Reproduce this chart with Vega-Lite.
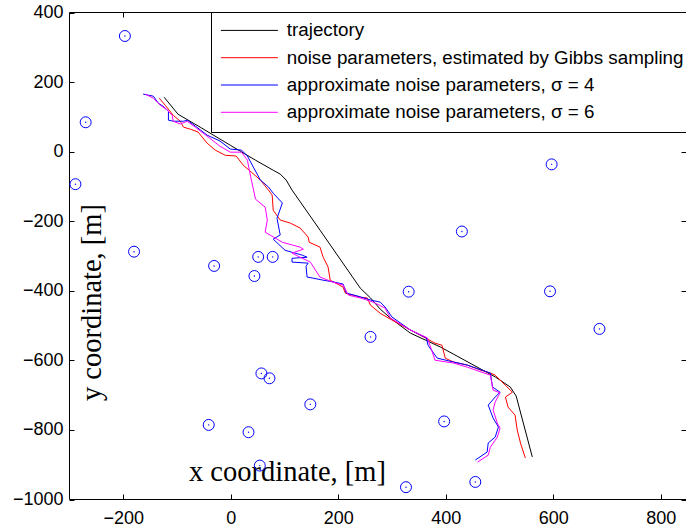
{
 "$schema": "https://vega.github.io/schema/vega-lite/v6.json",
 "width": 617,
 "height": 487,
 "autosize": {"type": "none"},
 "padding": {"left": 69, "top": 12, "right": 0, "bottom": 30},
 "background": "white",
 "config": {
  "view": {"stroke": "black", "strokeWidth": 1},
  "axis": {"grid": false, "domain": false, "labelColor": "black", "labelFont": "Liberation Sans", "labelFontSize": 18, "titleFont": "Liberation Serif", "titleFontSize": 28.5, "titleFontWeight": "normal", "titleColor": "black"}
 },
 "datasets": {
  "paths": [
   {"s": "trajectory", "i": 0, "x": -123, "y": 155},
   {"s": "trajectory", "i": 1, "x": -97, "y": 106},
   {"s": "trajectory", "i": 2, "x": -56, "y": 69},
   {"s": "trajectory", "i": 3, "x": 0, "y": 17},
   {"s": "trajectory", "i": 4, "x": 47, "y": -26},
   {"s": "trajectory", "i": 5, "x": 80, "y": -55},
   {"s": "trajectory", "i": 6, "x": 93, "y": -66},
   {"s": "trajectory", "i": 7, "x": 104, "y": -83},
   {"s": "trajectory", "i": 8, "x": 115, "y": -112},
   {"s": "trajectory", "i": 9, "x": 167, "y": -227},
   {"s": "trajectory", "i": 10, "x": 242, "y": -394},
   {"s": "trajectory", "i": 11, "x": 261, "y": -422},
   {"s": "trajectory", "i": 12, "x": 279, "y": -454},
   {"s": "trajectory", "i": 13, "x": 298, "y": -480},
   {"s": "trajectory", "i": 14, "x": 335, "y": -523},
   {"s": "trajectory", "i": 15, "x": 391, "y": -563},
   {"s": "trajectory", "i": 16, "x": 493, "y": -649},
   {"s": "trajectory", "i": 17, "x": 521, "y": -678},
   {"s": "trajectory", "i": 18, "x": 532, "y": -704},
   {"s": "trajectory", "i": 19, "x": 562, "y": -879},

   {"s": "noise parameters, estimated by Gibbs sampling", "i": 0, "x": -132, "y": 152},
   {"s": "noise parameters, estimated by Gibbs sampling", "i": 1, "x": -121, "y": 132},
   {"s": "noise parameters, estimated by Gibbs sampling", "i": 2, "x": -106, "y": 103},
   {"s": "noise parameters, estimated by Gibbs sampling", "i": 3, "x": -93, "y": 86},
   {"s": "noise parameters, estimated by Gibbs sampling", "i": 4, "x": -87, "y": 69},
   {"s": "noise parameters, estimated by Gibbs sampling", "i": 5, "x": -74, "y": 63},
   {"s": "noise parameters, estimated by Gibbs sampling", "i": 6, "x": -60, "y": 55},
   {"s": "noise parameters, estimated by Gibbs sampling", "i": 7, "x": -43, "y": 23},
   {"s": "noise parameters, estimated by Gibbs sampling", "i": 8, "x": -28, "y": 3},
   {"s": "noise parameters, estimated by Gibbs sampling", "i": 9, "x": -9, "y": -12},
   {"s": "noise parameters, estimated by Gibbs sampling", "i": 10, "x": 11, "y": -14},
   {"s": "noise parameters, estimated by Gibbs sampling", "i": 11, "x": 24, "y": -40},
   {"s": "noise parameters, estimated by Gibbs sampling", "i": 12, "x": 39, "y": -60},
   {"s": "noise parameters, estimated by Gibbs sampling", "i": 13, "x": 56, "y": -83},
   {"s": "noise parameters, estimated by Gibbs sampling", "i": 14, "x": 71, "y": -112},
   {"s": "noise parameters, estimated by Gibbs sampling", "i": 15, "x": 78, "y": -126},
   {"s": "noise parameters, estimated by Gibbs sampling", "i": 16, "x": 80, "y": -170},
   {"s": "noise parameters, estimated by Gibbs sampling", "i": 17, "x": 93, "y": -198},
   {"s": "noise parameters, estimated by Gibbs sampling", "i": 18, "x": 112, "y": -207},
   {"s": "noise parameters, estimated by Gibbs sampling", "i": 19, "x": 130, "y": -221},
   {"s": "noise parameters, estimated by Gibbs sampling", "i": 20, "x": 145, "y": -247},
   {"s": "noise parameters, estimated by Gibbs sampling", "i": 21, "x": 147, "y": -262},
   {"s": "noise parameters, estimated by Gibbs sampling", "i": 22, "x": 167, "y": -276},
   {"s": "noise parameters, estimated by Gibbs sampling", "i": 23, "x": 173, "y": -305},
   {"s": "noise parameters, estimated by Gibbs sampling", "i": 24, "x": 182, "y": -333},
   {"s": "noise parameters, estimated by Gibbs sampling", "i": 25, "x": 186, "y": -371},
   {"s": "noise parameters, estimated by Gibbs sampling", "i": 26, "x": 192, "y": -376},
   {"s": "noise parameters, estimated by Gibbs sampling", "i": 27, "x": 210, "y": -391},
   {"s": "noise parameters, estimated by Gibbs sampling", "i": 28, "x": 214, "y": -408},
   {"s": "noise parameters, estimated by Gibbs sampling", "i": 29, "x": 242, "y": -420},
   {"s": "noise parameters, estimated by Gibbs sampling", "i": 30, "x": 255, "y": -422},
   {"s": "noise parameters, estimated by Gibbs sampling", "i": 31, "x": 261, "y": -443},
   {"s": "noise parameters, estimated by Gibbs sampling", "i": 32, "x": 279, "y": -466},
   {"s": "noise parameters, estimated by Gibbs sampling", "i": 33, "x": 298, "y": -483},
   {"s": "noise parameters, estimated by Gibbs sampling", "i": 34, "x": 335, "y": -514},
   {"s": "noise parameters, estimated by Gibbs sampling", "i": 35, "x": 363, "y": -537},
   {"s": "noise parameters, estimated by Gibbs sampling", "i": 36, "x": 381, "y": -552},
   {"s": "noise parameters, estimated by Gibbs sampling", "i": 37, "x": 394, "y": -558},
   {"s": "noise parameters, estimated by Gibbs sampling", "i": 38, "x": 400, "y": -595},
   {"s": "noise parameters, estimated by Gibbs sampling", "i": 39, "x": 415, "y": -606},
   {"s": "noise parameters, estimated by Gibbs sampling", "i": 40, "x": 441, "y": -615},
   {"s": "noise parameters, estimated by Gibbs sampling", "i": 41, "x": 465, "y": -629},
   {"s": "noise parameters, estimated by Gibbs sampling", "i": 42, "x": 484, "y": -638},
   {"s": "noise parameters, estimated by Gibbs sampling", "i": 43, "x": 493, "y": -644},
   {"s": "noise parameters, estimated by Gibbs sampling", "i": 44, "x": 525, "y": -693},
   {"s": "noise parameters, estimated by Gibbs sampling", "i": 45, "x": 512, "y": -707},
   {"s": "noise parameters, estimated by Gibbs sampling", "i": 46, "x": 517, "y": -736},
   {"s": "noise parameters, estimated by Gibbs sampling", "i": 47, "x": 530, "y": -759},
   {"s": "noise parameters, estimated by Gibbs sampling", "i": 48, "x": 534, "y": -802},
   {"s": "noise parameters, estimated by Gibbs sampling", "i": 49, "x": 540, "y": -839},
   {"s": "noise parameters, estimated by Gibbs sampling", "i": 50, "x": 549, "y": -882},

   {"s": "approximate noise parameters, σ = 4", "i": 0, "x": -162, "y": 164},
   {"s": "approximate noise parameters, σ = 4", "i": 1, "x": -143, "y": 158},
   {"s": "approximate noise parameters, σ = 4", "i": 2, "x": -134, "y": 138},
   {"s": "approximate noise parameters, σ = 4", "i": 3, "x": -125, "y": 129},
   {"s": "approximate noise parameters, σ = 4", "i": 4, "x": -115, "y": 115},
   {"s": "approximate noise parameters, σ = 4", "i": 5, "x": -115, "y": 89},
   {"s": "approximate noise parameters, σ = 4", "i": 6, "x": -106, "y": 86},
   {"s": "approximate noise parameters, σ = 4", "i": 7, "x": -87, "y": 86},
   {"s": "approximate noise parameters, σ = 4", "i": 8, "x": -80, "y": 89},
   {"s": "approximate noise parameters, σ = 4", "i": 9, "x": -65, "y": 72},
   {"s": "approximate noise parameters, σ = 4", "i": 10, "x": -43, "y": 46},
   {"s": "approximate noise parameters, σ = 4", "i": 11, "x": -19, "y": 29},
   {"s": "approximate noise parameters, σ = 4", "i": 12, "x": 0, "y": 6},
   {"s": "approximate noise parameters, σ = 4", "i": 13, "x": 21, "y": 3},
   {"s": "approximate noise parameters, σ = 4", "i": 14, "x": 32, "y": -14},
   {"s": "approximate noise parameters, σ = 4", "i": 15, "x": 43, "y": -46},
   {"s": "approximate noise parameters, σ = 4", "i": 16, "x": 56, "y": -83},
   {"s": "approximate noise parameters, σ = 4", "i": 17, "x": 71, "y": -103},
   {"s": "approximate noise parameters, σ = 4", "i": 18, "x": 80, "y": -121},
   {"s": "approximate noise parameters, σ = 4", "i": 19, "x": 97, "y": -149},
   {"s": "approximate noise parameters, σ = 4", "i": 20, "x": 87, "y": -193},
   {"s": "approximate noise parameters, σ = 4", "i": 21, "x": 93, "y": -241},
   {"s": "approximate noise parameters, σ = 4", "i": 22, "x": 80, "y": -253},
   {"s": "approximate noise parameters, σ = 4", "i": 23, "x": 102, "y": -285},
   {"s": "approximate noise parameters, σ = 4", "i": 24, "x": 134, "y": -299},
   {"s": "approximate noise parameters, σ = 4", "i": 25, "x": 143, "y": -305},
   {"s": "approximate noise parameters, σ = 4", "i": 26, "x": 115, "y": -308},
   {"s": "approximate noise parameters, σ = 4", "i": 27, "x": 115, "y": -319},
   {"s": "approximate noise parameters, σ = 4", "i": 28, "x": 145, "y": -322},
   {"s": "approximate noise parameters, σ = 4", "i": 29, "x": 141, "y": -331},
   {"s": "approximate noise parameters, σ = 4", "i": 30, "x": 143, "y": -362},
   {"s": "approximate noise parameters, σ = 4", "i": 31, "x": 154, "y": -365},
   {"s": "approximate noise parameters, σ = 4", "i": 32, "x": 173, "y": -371},
   {"s": "approximate noise parameters, σ = 4", "i": 33, "x": 192, "y": -376},
   {"s": "approximate noise parameters, σ = 4", "i": 34, "x": 210, "y": -382},
   {"s": "approximate noise parameters, σ = 4", "i": 35, "x": 216, "y": -408},
   {"s": "approximate noise parameters, σ = 4", "i": 36, "x": 238, "y": -417},
   {"s": "approximate noise parameters, σ = 4", "i": 37, "x": 261, "y": -428},
   {"s": "approximate noise parameters, σ = 4", "i": 38, "x": 279, "y": -434},
   {"s": "approximate noise parameters, σ = 4", "i": 39, "x": 288, "y": -448},
   {"s": "approximate noise parameters, σ = 4", "i": 40, "x": 301, "y": -477},
   {"s": "approximate noise parameters, σ = 4", "i": 41, "x": 335, "y": -514},
   {"s": "approximate noise parameters, σ = 4", "i": 42, "x": 365, "y": -537},
   {"s": "approximate noise parameters, σ = 4", "i": 43, "x": 368, "y": -558},
   {"s": "approximate noise parameters, σ = 4", "i": 44, "x": 385, "y": -595},
   {"s": "approximate noise parameters, σ = 4", "i": 45, "x": 415, "y": -606},
   {"s": "approximate noise parameters, σ = 4", "i": 46, "x": 441, "y": -615},
   {"s": "approximate noise parameters, σ = 4", "i": 47, "x": 484, "y": -638},
   {"s": "approximate noise parameters, σ = 4", "i": 48, "x": 488, "y": -678},
   {"s": "approximate noise parameters, σ = 4", "i": 49, "x": 502, "y": -693},
   {"s": "approximate noise parameters, σ = 4", "i": 50, "x": 493, "y": -707},
   {"s": "approximate noise parameters, σ = 4", "i": 51, "x": 480, "y": -730},
   {"s": "approximate noise parameters, σ = 4", "i": 52, "x": 489, "y": -767},
   {"s": "approximate noise parameters, σ = 4", "i": 53, "x": 499, "y": -793},
   {"s": "approximate noise parameters, σ = 4", "i": 54, "x": 493, "y": -822},
   {"s": "approximate noise parameters, σ = 4", "i": 55, "x": 480, "y": -839},
   {"s": "approximate noise parameters, σ = 4", "i": 56, "x": 478, "y": -865},
   {"s": "approximate noise parameters, σ = 4", "i": 57, "x": 456, "y": -888},

   {"s": "approximate noise parameters, σ = 6", "i": 0, "x": -158, "y": 164},
   {"s": "approximate noise parameters, σ = 6", "i": 1, "x": -143, "y": 152},
   {"s": "approximate noise parameters, σ = 6", "i": 2, "x": -130, "y": 132},
   {"s": "approximate noise parameters, σ = 6", "i": 3, "x": -117, "y": 118},
   {"s": "approximate noise parameters, σ = 6", "i": 4, "x": -108, "y": 103},
   {"s": "approximate noise parameters, σ = 6", "i": 5, "x": -106, "y": 86},
   {"s": "approximate noise parameters, σ = 6", "i": 6, "x": -93, "y": 78},
   {"s": "approximate noise parameters, σ = 6", "i": 7, "x": -80, "y": 86},
   {"s": "approximate noise parameters, σ = 6", "i": 8, "x": -65, "y": 69},
   {"s": "approximate noise parameters, σ = 6", "i": 9, "x": -43, "y": 43},
   {"s": "approximate noise parameters, σ = 6", "i": 10, "x": -19, "y": 14},
   {"s": "approximate noise parameters, σ = 6", "i": 11, "x": 0, "y": -3},
   {"s": "approximate noise parameters, σ = 6", "i": 12, "x": 21, "y": -3},
   {"s": "approximate noise parameters, σ = 6", "i": 13, "x": 32, "y": -26},
   {"s": "approximate noise parameters, σ = 6", "i": 14, "x": 37, "y": -66},
   {"s": "approximate noise parameters, σ = 6", "i": 15, "x": 47, "y": -138},
   {"s": "approximate noise parameters, σ = 6", "i": 16, "x": 65, "y": -161},
   {"s": "approximate noise parameters, σ = 6", "i": 17, "x": 69, "y": -198},
   {"s": "approximate noise parameters, σ = 6", "i": 18, "x": 65, "y": -233},
   {"s": "approximate noise parameters, σ = 6", "i": 19, "x": 97, "y": -262},
   {"s": "approximate noise parameters, σ = 6", "i": 20, "x": 130, "y": -276},
   {"s": "approximate noise parameters, σ = 6", "i": 21, "x": 136, "y": -282},
   {"s": "approximate noise parameters, σ = 6", "i": 22, "x": 115, "y": -293},
   {"s": "approximate noise parameters, σ = 6", "i": 23, "x": 130, "y": -305},
   {"s": "approximate noise parameters, σ = 6", "i": 24, "x": 149, "y": -319},
   {"s": "approximate noise parameters, σ = 6", "i": 25, "x": 167, "y": -362},
   {"s": "approximate noise parameters, σ = 6", "i": 26, "x": 190, "y": -376},
   {"s": "approximate noise parameters, σ = 6", "i": 27, "x": 210, "y": -385},
   {"s": "approximate noise parameters, σ = 6", "i": 28, "x": 220, "y": -414},
   {"s": "approximate noise parameters, σ = 6", "i": 29, "x": 242, "y": -422},
   {"s": "approximate noise parameters, σ = 6", "i": 30, "x": 266, "y": -434},
   {"s": "approximate noise parameters, σ = 6", "i": 31, "x": 288, "y": -451},
   {"s": "approximate noise parameters, σ = 6", "i": 32, "x": 298, "y": -480},
   {"s": "approximate noise parameters, σ = 6", "i": 33, "x": 335, "y": -514},
   {"s": "approximate noise parameters, σ = 6", "i": 34, "x": 367, "y": -537},
   {"s": "approximate noise parameters, σ = 6", "i": 35, "x": 381, "y": -601},
   {"s": "approximate noise parameters, σ = 6", "i": 36, "x": 415, "y": -609},
   {"s": "approximate noise parameters, σ = 6", "i": 37, "x": 441, "y": -621},
   {"s": "approximate noise parameters, σ = 6", "i": 38, "x": 484, "y": -644},
   {"s": "approximate noise parameters, σ = 6", "i": 39, "x": 489, "y": -687},
   {"s": "approximate noise parameters, σ = 6", "i": 40, "x": 502, "y": -695},
   {"s": "approximate noise parameters, σ = 6", "i": 41, "x": 493, "y": -721},
   {"s": "approximate noise parameters, σ = 6", "i": 42, "x": 489, "y": -744},
   {"s": "approximate noise parameters, σ = 6", "i": 43, "x": 497, "y": -782},
   {"s": "approximate noise parameters, σ = 6", "i": 44, "x": 502, "y": -796},
   {"s": "approximate noise parameters, σ = 6", "i": 45, "x": 497, "y": -822},
   {"s": "approximate noise parameters, σ = 6", "i": 46, "x": 484, "y": -851},
   {"s": "approximate noise parameters, σ = 6", "i": 47, "x": 480, "y": -874},
   {"s": "approximate noise parameters, σ = 6", "i": 48, "x": 460, "y": -894}
  ],
  "landmarks": [
   {"x": -196, "y": 331}, {"x": -269, "y": 83}, {"x": -288, "y": -95}, {"x": -179, "y": -289},
   {"x": -30, "y": -330}, {"x": -40, "y": -787}, {"x": 52, "y": -304}, {"x": 79, "y": -304},
   {"x": 45, "y": -359}, {"x": 332, "y": -404}, {"x": 595, "y": -403}, {"x": 598, "y": -38},
   {"x": 431, "y": -231}, {"x": 687, "y": -511}, {"x": 261, "y": -534}, {"x": 58, "y": -639},
   {"x": 73, "y": -653}, {"x": 149, "y": -728}, {"x": 34, "y": -808}, {"x": 398, "y": -777},
   {"x": 456, "y": -951}, {"x": 55, "y": -904}, {"x": 327, "y": -966}
  ]
 },
 "layer": [
  {
   "data": {"name": "paths"},
   "mark": {"type": "line", "strokeWidth": 1},
   "encoding": {
    "x": {"field": "x", "type": "quantitative",
     "scale": {"domain": [-300, 848], "nice": false, "zero": false},
     "axis": {"orient": "bottom", "values": [-200, 0, 200, 400, 600, 800], "format": "d",
      "ticks": true, "tickSize": -5, "tickWidth": 1, "tickColor": "black", "tickOffset": 0.5,
      "labelPadding": 15, "labelFlush": false,
      "title": "x coordinate, [m]", "titleX": 218, "titleY": -19, "titleAlign": "center", "titleBaseline": "alphabetic"}},
    "y": {"field": "y", "type": "quantitative",
     "scale": {"domain": [-1000, 400], "nice": false, "zero": false},
     "axis": {"orient": "left", "values": [-1000, -800, -600, -400, -200, 0, 200, 400], "format": "d",
      "ticks": true, "tickSize": -5, "tickWidth": 1, "tickColor": "black", "tickOffset": 0.5,
      "labelPadding": 11, "labelOverlap": false,
      "title": "y coordinate, [m]", "titleX": 31, "titleY": 290, "titleAngle": 270, "titleAlign": "center", "titleBaseline": "alphabetic"}},
    "color": {"field": "s", "type": "nominal",
     "scale": {"domain": ["trajectory", "noise parameters, estimated by Gibbs sampling", "approximate noise parameters, σ = 4", "approximate noise parameters, σ = 6"],
      "range": ["#000000", "#ff0000", "#0000ff", "#ff00ff"]},
     "legend": {"orient": "none", "legendX": 142, "legendY": 0, "title": null, "padding": 9,
      "fillColor": "white", "strokeColor": "black", "symbolType": "M-5,0H5", "symbolSize": 130, "symbolStrokeWidth": 1,
      "symbolOffset": 20, "labelOffset": 28, "labelFont": "Liberation Sans", "labelFontSize": 18.8, "labelColor": "black",
      "labelLimit": 0, "rowPadding": 7.3}},
    "order": {"field": "i", "type": "quantitative"}
   }
  },
  {
   "data": {"name": "landmarks"},
   "mark": {"type": "point", "shape": "circle", "filled": false, "size": 120, "stroke": "#0000ff", "strokeWidth": 1, "opacity": 1},
   "encoding": {
    "x": {"field": "x", "type": "quantitative",
     "axis": {"orient": "top", "values": [-200, 0, 200, 400, 600, 800],
      "ticks": true, "tickSize": -5, "tickWidth": 1, "tickColor": "black", "tickOffset": 0.5,
      "labels": false, "title": null}},
    "y": {"field": "y", "type": "quantitative",
     "axis": {"orient": "right", "values": [-1000, -800, -600, -400, -200, 0, 200, 400],
      "ticks": true, "tickSize": -5, "tickWidth": 1, "tickColor": "black", "tickOffset": 0.5,
      "labels": false, "title": null}}
   }
  },
  {
   "data": {"name": "landmarks"},
   "mark": {"type": "point", "shape": "circle", "filled": true, "size": 2, "color": "#0000ff", "opacity": 1},
   "encoding": {
    "x": {"field": "x", "type": "quantitative", "axis": null},
    "y": {"field": "y", "type": "quantitative", "axis": null}
   }
  }
 ],
 "resolve": {"axis": {"x": "independent", "y": "independent"}}
}
